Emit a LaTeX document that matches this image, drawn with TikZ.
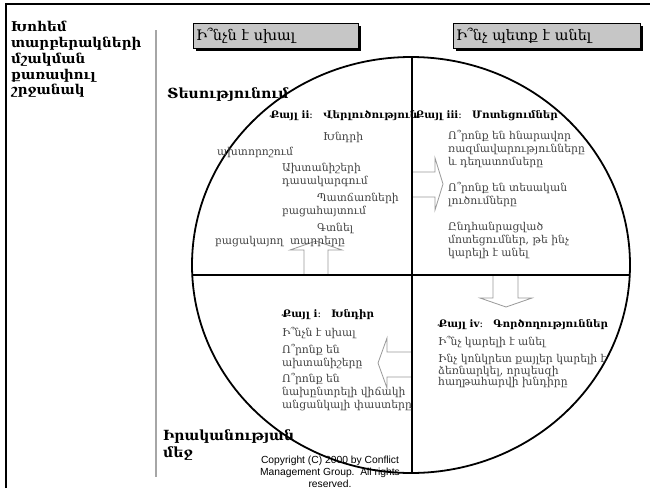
\documentclass[tikz,border=0pt]{standalone}
\usepackage{fontspec}
\setmainfont{DejaVu Serif}
\newfontfamily\cpfont{Liberation Sans}
\usetikzlibrary{shadows}

\tikzset{
  hdrbox/.style={draw=black, fill=gray!45, anchor=north west, minimum height=25pt,
    inner sep=3pt, align=left, font=\fontsize{14.5}{16}\selectfont,
    drop shadow={shadow xshift=3pt, shadow yshift=-3pt, fill=black, opacity=1}},
  sidettl/.style={font=\fontsize{13.5}{15.8}\selectfont\bfseries, align=left, inner sep=0pt},
  sidelbl/.style={font=\fontsize{14}{17}\selectfont\bfseries, align=left, inner sep=0pt, anchor=base west},
  stagehead/.style={font=\fontsize{10.3}{12}\selectfont\bfseries, inner sep=0pt, anchor=base west},
  note/.style={font=\fontsize{10.8}{13}\selectfont, text=black!75, align=left, inner sep=0pt, anchor=base west},
  blockarrow/.style={draw=gray!80, fill=white, line width=0.8pt},
  cycleline/.style={line width=1.8pt}
}

\begin{document}
\begin{tikzpicture}[x=1pt, y=-1pt]
\useasboundingbox (0,0) rectangle (650,488);

% frame of the slide
\draw[line width=2pt] (6,488) -- (6,4) -- (650,4);
\draw[gray!70, line width=1.5pt] (156,30) -- (156,477);

% title on the left
\node[sidettl, anchor=north west] (ttl) at (11,21) {Խոհեմ\\տարբերակների\\մշակման\\քառափուլ\\շրջանակ};

% the two column headers
\node[hdrbox, text width=159pt] (whatwrong) at (193,23) {Ի՞նչն է սխալ};
\node[hdrbox, text width=181pt] (whattodo) at (453,23) {Ի՞նչ պետք է անել};

% arrows between the quarters
\draw[blockarrow] (304,275) -- (304,250) -- (290,250) -- (316,241) -- (342,250) -- (328,250) -- (328,275);
\draw[blockarrow] (412,172) -- (435,172) -- (435,158) -- (443,184) -- (435,210) -- (435,197) -- (412,197);
\draw[blockarrow] (493,275) -- (493,298) -- (480,298) -- (506,307) -- (532,298) -- (518,298) -- (518,275);
\draw[blockarrow] (412,352) -- (387,352) -- (387,338) -- (378,363) -- (387,388) -- (387,377) -- (412,377);

% the circle cut in four
\draw[cycleline] (411,265) ellipse [x radius=219, y radius=208];
\draw[cycleline] (192.3,275) -- (629.7,275);
\draw[cycleline] (412,57) -- (412,473);

% row labels (base = last line)
\node[sidelbl] (theory) at (167,98) {Տեսությունում};
\node[sidelbl] (practice) at (163,457) {Իրականության\\մեջ};

% step II
\node[stagehead] (st2) at (270,118) {Քայլ ii։\quad Վերլուծություն};
\node[note] (n2a) at (323,140.5) {Խնդրի};
\node[note] (n2b) at (217,155.5) {ախտորոշում};
\node[note] (n2c) at (282,184.5) {Ախտանիշերի\\դասակարգում};
\node[note] (n2d) at (317,201.5) {Պատճառների};
\node[note] (n2e) at (282,214.5) {բացահայտում};
\node[note] (n2f) at (317,231.5) {Գտնել};
\node[note] (n2g) at (215,244.5) {բացակայող};
\node[note] (n2h) at (290,244.5) {տարրերը};

% step III
\node[stagehead] (st3) at (415,118) {Քայլ iii։\quad Մոտեցումներ};
\node[note] (n3a) at (448,165.5) {Ո՞րոնք են հնարավոր\\ռազմավարությունները\\և դեղատոմսերը};
\node[note] (n3b) at (448,204.5) {Ո՞րոնք են տեսական\\լուծումները};
\node[note] (n3c) at (448,256.5) {Ընդհանրացված\\մոտեցումներ, թե ինչ\\կարելի է անել};

% step I
\node[stagehead] (st1) at (282,317) {Քայլ i։\quad Խնդիր};
\node[note] (n1a) at (282,336.5) {Ի՞նչն է սխալ};
\node[note] (n1b) at (282,366.5) {Ո՞րոնք են\\ախտանիշերը};
\node[note] (n1c) at (282,408.5) {Ո՞րոնք են\\նախընտրելի վիճակի\\անցանկալի փաստերը};

% step IV
\node[stagehead] (st4) at (438,327) {Քայլ iv։\quad Գործողություններ};
\node[note] (n4a) at (438,345.5) {Ի՞նչ կարելի է անել};
\node[note, font=\fontsize{10.8}{11.5}\selectfont] (n4b) at (438,385.5) {Ինչ կոնկրետ քայլեր կարելի է\\ձեռնարկել, որպեսզի\\հաղթահարվի խնդիրը};

% copyright line
\node[font=\cpfont\fontsize{10.3}{12}\selectfont, align=center, inner sep=0pt, anchor=base] (copy) at (330,487) {Copyright (C) 2000 by Conflict\\Management Group.\ \ All rights\\reserved.};
\end{tikzpicture}
\end{document}
